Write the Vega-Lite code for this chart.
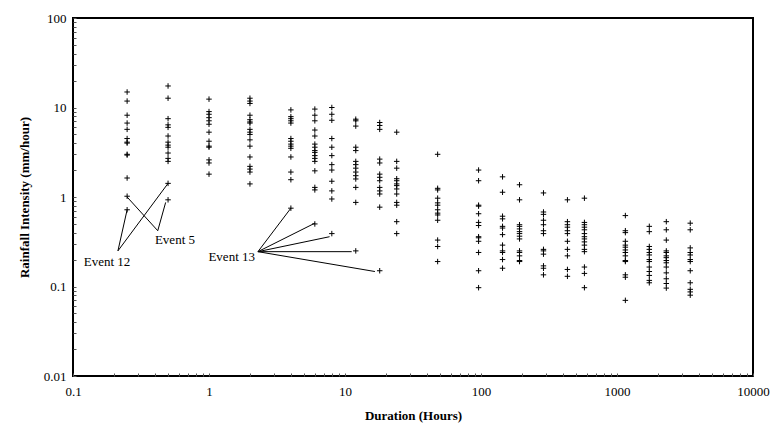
{
  "$schema": "https://vega.github.io/schema/vega-lite/v6.json",
  "width": 680,
  "height": 358,
  "autosize": {"type": "none"},
  "padding": {"left": 73, "top": 18, "right": 29, "bottom": 57},
  "background": "white",
  "config": {
    "view": {"stroke": "#000", "strokeWidth": 2},
    "font": "'Liberation Serif', 'Times New Roman', 'DejaVu Serif', serif"
  },
  "datasets": {
    "pts": [
      {"d":0.25,"v":14.9},{"d":0.25,"v":11.8},{"d":0.25,"v":8.2},{"d":0.25,"v":6.7},{"d":0.25,"v":5.7},{"d":0.25,"v":4.5},{"d":0.25,"v":4.1},{"d":0.25,"v":4.0},{"d":0.25,"v":3.0},{"d":0.25,"v":2.94},{"d":0.25,"v":1.63},{"d":0.25,"v":1.02},{"d":0.25,"v":0.72},
      {"d":0.5,"v":17.4},{"d":0.5,"v":12.7},{"d":0.5,"v":7.5},{"d":0.5,"v":6.4},{"d":0.5,"v":6.0},{"d":0.5,"v":4.8},{"d":0.5,"v":4.1},{"d":0.5,"v":3.8},{"d":0.5,"v":3.6},{"d":0.5,"v":3.1},{"d":0.5,"v":2.7},{"d":0.5,"v":2.5},{"d":0.5,"v":1.42},{"d":0.5,"v":0.93},
      {"d":1,"v":12.4},{"d":1,"v":9.0},{"d":1,"v":8.4},{"d":1,"v":7.7},{"d":1,"v":7.1},{"d":1,"v":6.5},{"d":1,"v":5.3},{"d":1,"v":4.2},{"d":1,"v":3.7},{"d":1,"v":3.6},{"d":1,"v":2.6},{"d":1,"v":2.4},{"d":1,"v":1.8},
      {"d":2,"v":12.7},{"d":2,"v":11.8},{"d":2,"v":11.1},{"d":2,"v":8.2},{"d":2,"v":7.3},{"d":2,"v":6.9},{"d":2,"v":6.7},{"d":2,"v":5.7},{"d":2,"v":5.3},{"d":2,"v":5.0},{"d":2,"v":4.35},{"d":2,"v":3.7},{"d":2,"v":2.8},{"d":2,"v":2.2},{"d":2,"v":2.05},{"d":2,"v":1.9},{"d":2,"v":1.4},
      {"d":4,"v":9.4},{"d":4,"v":7.9},{"d":4,"v":7.5},{"d":4,"v":7.1},{"d":4,"v":6.7},{"d":4,"v":4.5},{"d":4,"v":4.2},{"d":4,"v":3.9},{"d":4,"v":3.7},{"d":4,"v":3.5},{"d":4,"v":2.8},{"d":4,"v":1.9},{"d":4,"v":1.56},{"d":4,"v":0.75},
      {"d":6,"v":9.6},{"d":6,"v":8.2},{"d":6,"v":7.1},{"d":6,"v":5.6},{"d":6,"v":4.8},{"d":6,"v":3.9},{"d":6,"v":3.6},{"d":6,"v":3.3},{"d":6,"v":3.15},{"d":6,"v":2.9},{"d":6,"v":2.7},{"d":6,"v":2.5},{"d":6,"v":1.96},{"d":6,"v":1.28},{"d":6,"v":1.2},{"d":6,"v":0.5},
      {"d":8,"v":10.0},{"d":8,"v":8.4},{"d":8,"v":7.2},{"d":8,"v":4.5},{"d":8,"v":3.6},{"d":8,"v":2.9},{"d":8,"v":2.3},{"d":8,"v":2.0},{"d":8,"v":1.5},{"d":8,"v":1.17},{"d":8,"v":0.95},{"d":8,"v":0.39},
      {"d":12,"v":7.4},{"d":12,"v":7.1},{"d":12,"v":6.2},{"d":12,"v":3.6},{"d":12,"v":3.3},{"d":12,"v":2.5},{"d":12,"v":2.3},{"d":12,"v":2.1},{"d":12,"v":1.9},{"d":12,"v":1.73},{"d":12,"v":1.59},{"d":12,"v":1.28},{"d":12,"v":0.87},{"d":12,"v":0.25},
      {"d":18,"v":6.8},{"d":18,"v":6.3},{"d":18,"v":5.7},{"d":18,"v":2.65},{"d":18,"v":2.4},{"d":18,"v":1.8},{"d":18,"v":1.66},{"d":18,"v":1.52},{"d":18,"v":1.28},{"d":18,"v":1.17},{"d":18,"v":1.08},{"d":18,"v":0.77},{"d":18,"v":0.15},
      {"d":24,"v":5.3},{"d":24,"v":2.5},{"d":24,"v":2.1},{"d":24,"v":1.6},{"d":24,"v":1.52},{"d":24,"v":1.4},{"d":24,"v":1.34},{"d":24,"v":1.23},{"d":24,"v":1.08},{"d":24,"v":0.87},{"d":24,"v":0.81},{"d":24,"v":0.53},{"d":24,"v":0.39},
      {"d":48,"v":3.0},{"d":48,"v":1.25},{"d":48,"v":1.2},{"d":48,"v":0.97},{"d":48,"v":0.86},{"d":48,"v":0.81},{"d":48,"v":0.72},{"d":48,"v":0.66},{"d":48,"v":0.63},{"d":48,"v":0.55},{"d":48,"v":0.33},{"d":48,"v":0.28},{"d":48,"v":0.19},
      {"d":96,"v":2.0},{"d":96,"v":1.52},{"d":96,"v":0.81},{"d":96,"v":0.79},{"d":96,"v":0.65},{"d":96,"v":0.52},{"d":96,"v":0.48},{"d":96,"v":0.36},{"d":96,"v":0.35},{"d":96,"v":0.32},{"d":96,"v":0.24},{"d":96,"v":0.15},{"d":96,"v":0.097},
      {"d":144,"v":1.68},{"d":144,"v":1.13},{"d":144,"v":0.61},{"d":144,"v":0.57},{"d":144,"v":0.47},{"d":144,"v":0.45},{"d":144,"v":0.38},{"d":144,"v":0.29},{"d":144,"v":0.25},{"d":144,"v":0.24},{"d":144,"v":0.2},{"d":144,"v":0.16},
      {"d":192,"v":1.37},{"d":192,"v":0.93},{"d":192,"v":0.49},{"d":192,"v":0.47},{"d":192,"v":0.44},{"d":192,"v":0.41},{"d":192,"v":0.39},{"d":192,"v":0.365},{"d":192,"v":0.34},{"d":192,"v":0.25},{"d":192,"v":0.24},{"d":192,"v":0.22},{"d":192,"v":0.195},{"d":192,"v":0.19},
      {"d":288,"v":1.11},{"d":288,"v":0.68},{"d":288,"v":0.64},{"d":288,"v":0.55},{"d":288,"v":0.49},{"d":288,"v":0.42},{"d":288,"v":0.39},{"d":288,"v":0.26},{"d":288,"v":0.25},{"d":288,"v":0.23},{"d":288,"v":0.17},{"d":288,"v":0.16},{"d":288,"v":0.135},
      {"d":432,"v":0.93},{"d":432,"v":0.53},{"d":432,"v":0.49},{"d":432,"v":0.46},{"d":432,"v":0.42},{"d":432,"v":0.39},{"d":432,"v":0.32},{"d":432,"v":0.26},{"d":432,"v":0.22},{"d":432,"v":0.155},{"d":432,"v":0.13},
      {"d":576,"v":0.97},{"d":576,"v":0.52},{"d":576,"v":0.49},{"d":576,"v":0.46},{"d":576,"v":0.43},{"d":576,"v":0.39},{"d":576,"v":0.36},{"d":576,"v":0.34},{"d":576,"v":0.315},{"d":576,"v":0.29},{"d":576,"v":0.26},{"d":576,"v":0.245},{"d":576,"v":0.165},{"d":576,"v":0.14},{"d":576,"v":0.097},
      {"d":1152,"v":0.62},{"d":1152,"v":0.42},{"d":1152,"v":0.4},{"d":1152,"v":0.32},{"d":1152,"v":0.29},{"d":1152,"v":0.275},{"d":1152,"v":0.256},{"d":1152,"v":0.24},{"d":1152,"v":0.22},{"d":1152,"v":0.195},{"d":1152,"v":0.19},{"d":1152,"v":0.135},{"d":1152,"v":0.127},{"d":1152,"v":0.07},
      {"d":1728,"v":0.47},{"d":1728,"v":0.41},{"d":1728,"v":0.28},{"d":1728,"v":0.26},{"d":1728,"v":0.24},{"d":1728,"v":0.225},{"d":1728,"v":0.2},{"d":1728,"v":0.19},{"d":1728,"v":0.165},{"d":1728,"v":0.147},{"d":1728,"v":0.133},{"d":1728,"v":0.117},{"d":1728,"v":0.11},
      {"d":2304,"v":0.53},{"d":2304,"v":0.43},{"d":2304,"v":0.33},{"d":2304,"v":0.25},{"d":2304,"v":0.24},{"d":2304,"v":0.22},{"d":2304,"v":0.21},{"d":2304,"v":0.195},{"d":2304,"v":0.184},{"d":2304,"v":0.165},{"d":2304,"v":0.142},{"d":2304,"v":0.122},{"d":2304,"v":0.108},{"d":2304,"v":0.096},
      {"d":3456,"v":0.51},{"d":3456,"v":0.43},{"d":3456,"v":0.27},{"d":3456,"v":0.24},{"d":3456,"v":0.225},{"d":3456,"v":0.2},{"d":3456,"v":0.19},{"d":3456,"v":0.15},{"d":3456,"v":0.11},{"d":3456,"v":0.093},{"d":3456,"v":0.087},{"d":3456,"v":0.08}
    ],
    "lines": [
      {"x":0.214,"y":0.25,"x2":0.25,"y2":0.72},
      {"x":0.214,"y":0.25,"x2":0.5,"y2":1.42},
      {"x":0.42,"y":0.42,"x2":0.25,"y2":1.0},
      {"x":0.42,"y":0.42,"x2":0.48,"y2":0.87},
      {"x":2.29,"y":0.245,"x2":4,"y2":0.75},
      {"x":2.29,"y":0.245,"x2":6,"y2":0.51},
      {"x":2.29,"y":0.245,"x2":7.7,"y2":0.36},
      {"x":2.29,"y":0.245,"x2":11.2,"y2":0.245},
      {"x":2.29,"y":0.245,"x2":16.6,"y2":0.147}
    ],
    "labels": [
      {"t":"Event 12","x":0.178,"y":0.189},
      {"t":"Event 5","x":0.562,"y":0.327},
      {"t":"Event 13","x":1.469,"y":0.216}
    ]
  },
  "layer": [
    {
      "data": {"name": "pts"},
      "mark": {"type": "point", "shape": "M-1,0L1,0M0,-1L0,1", "filled": false, "stroke": "#000", "strokeWidth": 1, "size": 30, "opacity": 1},
      "encoding": {
        "x": {
          "field": "d", "type": "quantitative",
          "scale": {"type": "log", "domain": [0.1, 10000], "nice": false},
          "axis": {
            "title": "Duration (Hours)",
            "values": [0.1,0.2,0.3,0.4,0.5,0.6,0.7,0.8,0.9,1,2,3,4,5,6,7,8,9,10,20,30,40,50,60,70,80,90,100,200,300,400,500,600,700,800,900,1000,2000,3000,4000,5000,6000,7000,8000,9000,10000],
            "format": "~g",
            "labelExpr": "indexof(['0.1','1','10','100','1000','10000'], datum.label) >= 0 ? datum.label : ''",
            "labelOverlap": false, "labelFlush": false,
            "domain": false, "grid": false,
            "tickSize": -3, "tickColor": "#555", "tickWidth": 1,
            "labelFont": "'Liberation Serif', 'Times New Roman', 'DejaVu Serif', serif", "labelFontSize": 13, "labelColor": "#000", "labelPadding": 12,
            "titleFont": "'Liberation Serif', 'Times New Roman', 'DejaVu Serif', serif", "titleFontSize": 13, "titleFontWeight": "bold", "titleColor": "#000", "titlePadding": 11
          }
        },
        "y": {
          "field": "v", "type": "quantitative",
          "scale": {"type": "log", "domain": [0.01, 100], "nice": false},
          "axis": {
            "title": "Rainfall Intensity (mm/hour)",
            "values": [0.01,0.02,0.03,0.04,0.05,0.06,0.07,0.08,0.09,0.1,0.2,0.3,0.4,0.5,0.6,0.7,0.8,0.9,1,2,3,4,5,6,7,8,9,10,20,30,40,50,60,70,80,90,100],
            "format": "~g",
            "labelExpr": "indexof(['0.01','0.1','1','10','100'], datum.label) >= 0 ? datum.label : ''",
            "labelOverlap": false, "labelFlush": false,
            "domain": false, "grid": false,
            "tickSize": -3, "tickColor": "#555", "tickWidth": 1,
            "labelFont": "'Liberation Serif', 'Times New Roman', 'DejaVu Serif', serif", "labelFontSize": 13, "labelColor": "#000", "labelPadding": 10,
            "titleFont": "'Liberation Serif', 'Times New Roman', 'DejaVu Serif', serif", "titleFontSize": 13, "titleFontWeight": "bold", "titleColor": "#000", "titlePadding": 12
          }
        }
      }
    },
    {
      "data": {"name": "lines"},
      "mark": {"type": "rule", "color": "#000", "strokeWidth": 1},
      "encoding": {
        "x": {"field": "x", "type": "quantitative"},
        "y": {"field": "y", "type": "quantitative"},
        "x2": {"field": "x2"},
        "y2": {"field": "y2"}
      }
    },
    {
      "data": {"name": "labels"},
      "mark": {"type": "text", "font": "'Liberation Serif', 'Times New Roman', 'DejaVu Serif', serif", "fontSize": 13, "color": "#000", "align": "center", "baseline": "middle"},
      "encoding": {
        "x": {"field": "x", "type": "quantitative"},
        "y": {"field": "y", "type": "quantitative"},
        "text": {"field": "t"}
      }
    }
  ]
}
